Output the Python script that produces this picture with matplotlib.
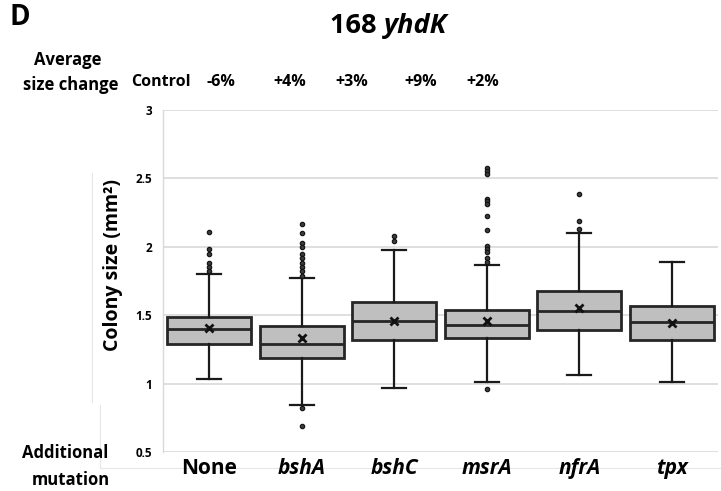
import matplotlib
matplotlib.use("Agg")
import matplotlib.pyplot as plt
from matplotlib.lines import Line2D

plt.rcParams['font.family'] = ['Open Sans', 'DejaVu Sans']

# values
mutations = ["None", "bshA", "bshC", "msrA", "nfrA", "tpx"]
size_change = ["Control", "-6%", "+4%", "+3%", "+9%", "+2%"]
q1 = [1.29, 1.19, 1.32, 1.33, 1.39, 1.32]
median = [1.40, 1.29, 1.46, 1.43, 1.53, 1.45]
q3 = [1.49, 1.42, 1.60, 1.54, 1.68, 1.57]
means = [1.41, 1.33, 1.46, 1.46, 1.55, 1.44]
whislo = [1.035, 0.84, 0.965, 1.01, 1.06, 1.01]
whishi = [1.80, 1.77, 1.98, 1.87, 2.10, 1.89]
outliers = [
    [2.11, 1.985, 1.945, 1.88, 1.85, 1.82],
    [2.165, 2.10, 2.03, 2.0, 1.95, 1.92, 1.88, 1.85, 1.82, 1.79, 0.82, 0.69],
    [2.08, 2.045],
    [2.574, 2.554, 2.532, 2.352, 2.333, 2.31, 2.223, 2.121, 2.006, 1.986,
     1.962, 1.918, 1.889, 0.963],
    [2.384, 2.186, 2.128],
    [],
]
y_ticks = [0.5, 1, 1.5, 2, 2.5, 3]
y_ticklabels = ["0.5", "1", "1.5", "2", "2.5", "3"]

W, H = 721, 491
fig = plt.figure(figsize=(W / 100, H / 100), dpi=100)
ax = fig.add_axes([0.226, 0.0794, 0.77, 0.6966])


def px(x, y):
    # pixel position (from top-left) to figure fraction
    return x / W, 1 - y / H


stats = []
for i in range(len(mutations)):
    stats.append(dict(q1=q1[i], med=median[i], q3=q3[i], mean=means[i],
                      whislo=whislo[i], whishi=whishi[i], fliers=outliers[i]))

pos = list(range(len(mutations)))
ax.bxp(stats, positions=pos, widths=0.91, patch_artist=True, showmeans=True,
       boxprops=dict(facecolor="#bfbfbf", edgecolor="#262626", linewidth=2.0),
       medianprops=dict(color="#262626", linewidth=2.0),
       whiskerprops=dict(color="#1a1a1a", linewidth=1.6),
       capprops=dict(color="#1a1a1a", linewidth=1.6),
       capwidths=0.26,
       meanprops=dict(marker="x", markersize=6, markeredgecolor="#111111",
                      markeredgewidth=2.0),
       flierprops=dict(marker="o", markersize=3.2, markerfacecolor="#3a3a3a",
                       markeredgecolor="#111111", markeredgewidth=0.8))

ax.set_xlim(-0.5, len(mutations) - 0.5)
ax.set_ylim(0.5, 3)
ax.set_yticks(y_ticks)
ax.set_yticklabels(y_ticklabels, fontsize=8.5, fontweight="bold")
ax.yaxis.grid(True, color="#d9d9d9", linewidth=1.2)
ax.set_axisbelow(True)
ax.tick_params(axis="y", length=0, pad=8)
ax.tick_params(axis="x", length=0, pad=4)
for s in ["top", "right", "bottom"]:
    ax.spines[s].set_visible(False)
ax.spines["left"].set_color("#d9d9d9")
ax.spines["left"].set_linewidth(1.0)

ax.set_xticks(pos)
ax.set_xticklabels(mutations, fontsize=15, fontweight="bold")
for lab in ax.get_xticklabels()[1:]:
    lab.set_fontstyle("italic")

ax.set_ylabel("Colony size (mm²)", fontsize=14, fontweight="bold")
ax.yaxis.set_label_coords(-0.072, 0.547)

# header texts
fig.text(*px(9, 25), "D", fontsize=20, fontweight="bold", va="baseline")
fig.text(*px(384, 33), "168 ", fontsize=19.5, fontweight="bold",
         ha="right", va="baseline")
fig.text(*px(384, 33), "yhdK", fontsize=19.5, fontweight="bold",
         fontstyle="italic", ha="left", va="baseline")
fig.text(*px(68, 65), "Average", fontsize=12, fontweight="bold",
         ha="center", va="baseline")
fig.text(*px(71, 90), "size change", fontsize=12, fontweight="bold",
         ha="center", va="baseline")
label_x = [161, 221, 290, 352, 421, 483]
for xp, t in zip(label_x, size_change):
    fig.text(*px(xp, 86), t, fontsize=11.5, fontweight="bold",
             ha="center", va="baseline")
fig.text(*px(65, 458), "Additional", fontsize=12, fontweight="bold",
         ha="center", va="baseline")
fig.text(*px(71, 485), "mutation", fontsize=12, fontweight="bold",
         ha="center", va="baseline")

# faint frame remnants around the label area
faint = "#e6e6e6"
for xs, ys in [([92, 92], [173, 402]), ([100, 100], [405, 468]),
               ([100, 721], [468, 468])]:
    fig.add_artist(Line2D([v / W for v in xs], [1 - v / H for v in ys],
                          transform=fig.transFigure, color=faint, lw=0.8,
                          zorder=-1))

fig.savefig("out.png", dpi=100)
